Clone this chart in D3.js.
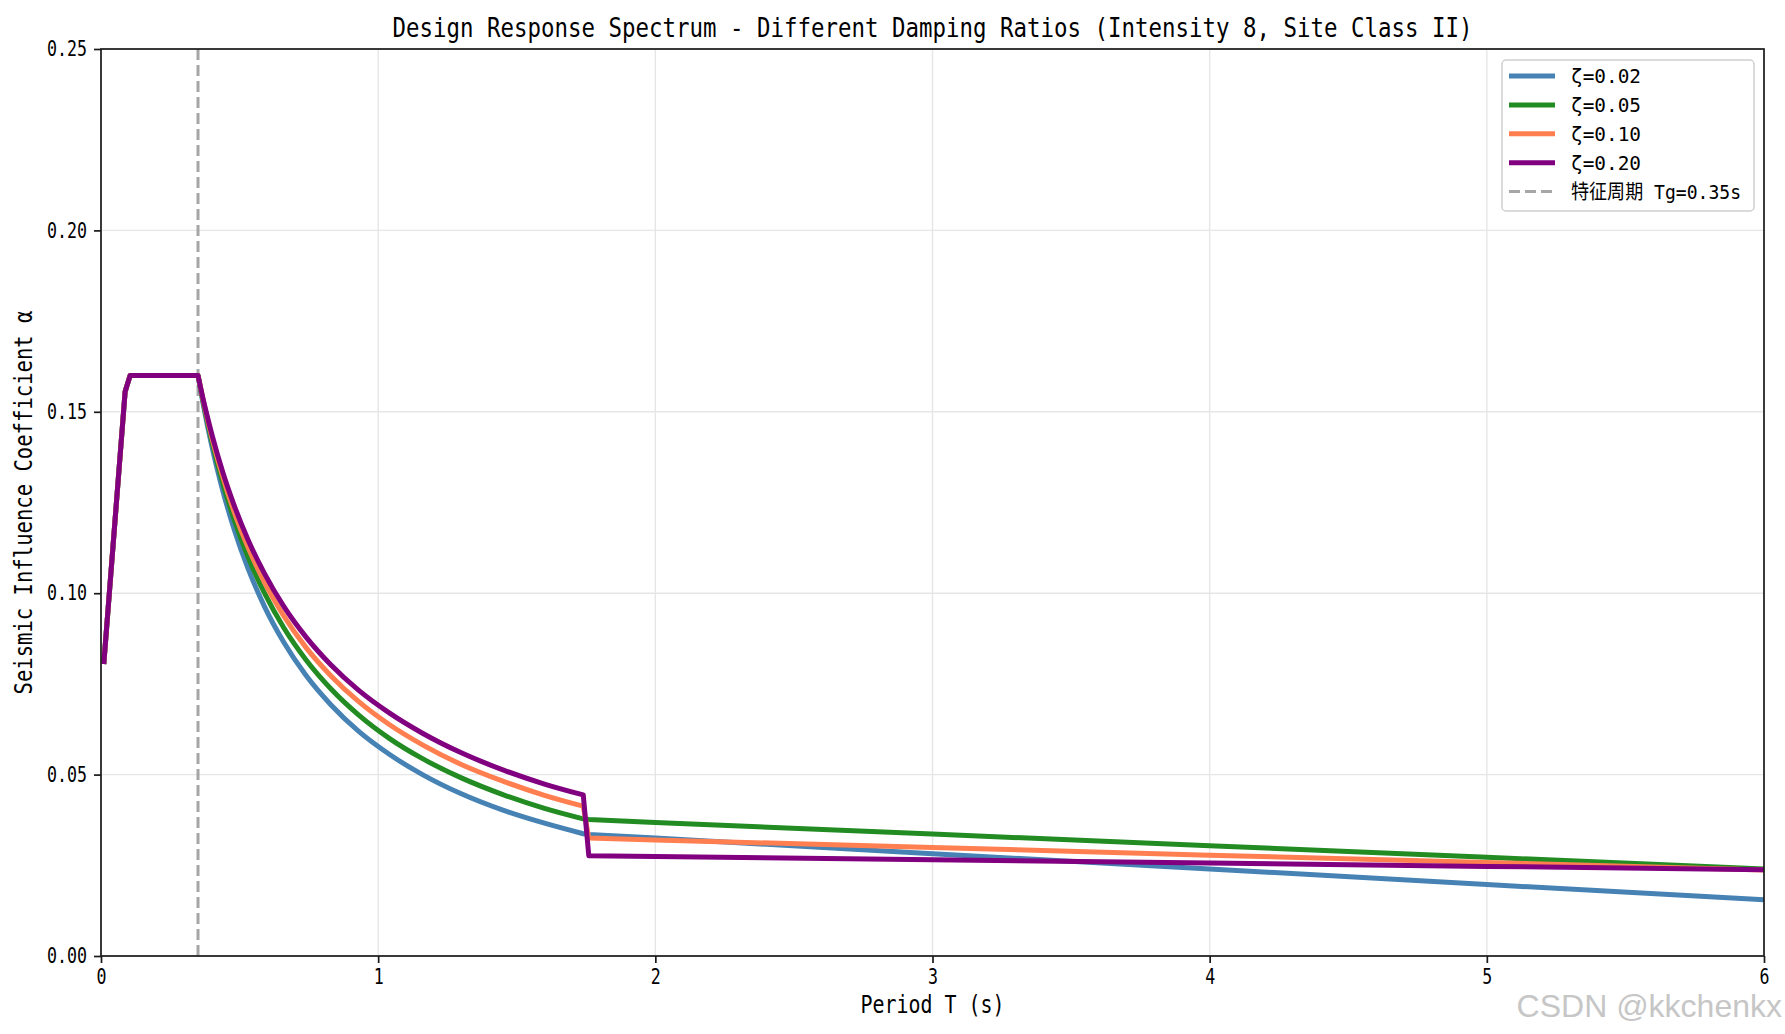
<!DOCTYPE html>
<html>
<head>
<meta charset="utf-8">
<script src="https://cdn.jsdelivr.net/npm/d3@7"></script>
<style>
  body { margin: 0; background: #fff; }
  svg text { font-family: "DejaVu Sans Mono", "Noto Sans CJK SC", monospace; fill: #000; }
</style>
</head>
<body>
<div id="chart"></div>
<script>
var width = 1785;
var height = 1034;
var margin = { top: 49, right: 21, bottom: 78, left: 101 };

// Period samples T (s)
var periods = [0.01, 0.087, 0.105, 0.35, 0.37, 0.40, 0.44, 0.48, 0.53, 0.59, 0.66, 0.74, 0.83, 0.93,
  1.04, 1.16, 1.30, 1.45, 1.60, 1.74, 1.76, 2, 3, 4, 5, 6];

// seismic influence coefficient for each damping ratio
var alpha002 = [0.0805, 0.1555, 0.16, 0.16, 0.1516, 0.1405, 0.1281, 0.1177, 0.1069, 0.0963, 0.0864, 0.0773, 0.0692, 0.0619,
  0.0556, 0.0500, 0.0447, 0.0402, 0.0366, 0.0337, 0.0335, 0.0325, 0.0282, 0.0240, 0.0197, 0.0155];
var alpha005 = [0.0805, 0.1555, 0.16, 0.16, 0.1522, 0.1419, 0.1302, 0.1204, 0.1101, 0.1000, 0.0904, 0.0816, 0.0736, 0.0664,
  0.0600, 0.0544, 0.0491, 0.0445, 0.0407, 0.0378, 0.0376, 0.0368, 0.0336, 0.0304, 0.0272, 0.0240];
var alpha010 = [0.0805, 0.1555, 0.16, 0.16, 0.1527, 0.1429, 0.1319, 0.1225, 0.1127, 0.1030, 0.0937, 0.0850, 0.0772, 0.0701,
  0.0638, 0.0582, 0.0528, 0.0482, 0.0443, 0.0413, 0.0325, 0.0320, 0.0299, 0.0278, 0.0258, 0.0237];
var alpha020 = [0.0805, 0.1555, 0.16, 0.16, 0.1530, 0.1438, 0.1332, 0.1243, 0.1148, 0.1054, 0.0963, 0.0879, 0.0802, 0.0732,
  0.0670, 0.0614, 0.0560, 0.0513, 0.0474, 0.0444, 0.0276, 0.0274, 0.0265, 0.0256, 0.0247, 0.0238];

var seriesNames = ["ζ=0.02", "ζ=0.05", "ζ=0.10", "ζ=0.20"];
var tgValue = 0.35;
var tgLabel = "特征周期 Tg=0.35s";
var xTicks = [0, 1, 2, 3, 4, 5, 6];
var yTicks = [0, 0.05, 0.10, 0.15, 0.20, 0.25];

var titleText = "Design Response Spectrum - Different Damping Ratios (Intensity 8, Site Class II)";
var xLabelText = "Period T (s)";
var yLabelText = "Seismic Influence Coefficient α";

var colors = ["#4682b4", "#228b22", "#ff7f50", "#800080"];

var series = [alpha002, alpha005, alpha010, alpha020].map(function (vals, i) {
  return { name: seriesNames[i], color: colors[i], points: periods.map(function (t, j) { return [t, vals[j]]; }) };
});

// SimHei style text: latin glyphs half width, greek / CJK full width
function halfWidth(sel, em, k) {
  sel.attr("font-size", em * (k || 0.98)).each(function () {
    var s = this.textContent, w = 0;
    for (var i = 0; i < s.length; i++) {
      w += s.charCodeAt(i) > 0x36f ? 1 : 0.5;
    }
    d3.select(this).attr("textLength", w * em).attr("lengthAdjust", "spacingAndGlyphs");
  });
}

var svg = d3.select("#chart").append("svg")
  .attr("width", width)
  .attr("height", height);

var x = d3.scaleLinear().domain([0, 6]).range([margin.left, width - margin.right]);
var y = d3.scaleLinear().domain([0, 0.25]).range([height - margin.bottom, margin.top]);

// grid
svg.append("g").selectAll("line").data(xTicks).enter().append("line")
  .attr("x1", function (d) { return x(d); }).attr("x2", function (d) { return x(d); })
  .attr("y1", y(0)).attr("y2", y(0.25))
  .attr("stroke", "#e6e6e6").attr("stroke-width", 1.4);
svg.append("g").selectAll("line").data(yTicks).enter().append("line")
  .attr("y1", function (d) { return y(d); }).attr("y2", function (d) { return y(d); })
  .attr("x1", x(0)).attr("x2", x(6))
  .attr("stroke", "#e6e6e6").attr("stroke-width", 1.4);

// Tg marker
svg.append("line")
  .attr("x1", x(tgValue)).attr("x2", x(tgValue))
  .attr("y1", y(0)).attr("y2", y(0.25))
  .attr("stroke", "#a6a6a6").attr("stroke-width", 3)
  .attr("stroke-dasharray", "11,5");

// straight pieces for ramp/plateau and the 5Tg drop, smooth decay in between
var straight = d3.line()
  .x(function (d) { return x(d[0]); })
  .y(function (d) { return y(d[1]); });
var smooth = d3.line()
  .x(function (d) { return x(d[0]); })
  .y(function (d) { return y(d[1]); })
  .curve(d3.curveMonotoneX);

function seriesPath(pts) {
  var a = straight(pts.slice(0, 4));
  var b = smooth(pts.slice(3, 20)).replace(/^M/, "L");
  var c = straight(pts.slice(19)).replace(/^M/, "L");
  return a + b + c;
}

svg.append("g").selectAll("path").data(series).enter().append("path")
  .attr("d", function (d) { return seriesPath(d.points); })
  .attr("fill", "none")
  .attr("stroke", function (d) { return d.color; })
  .attr("stroke-width", 5)
  .attr("stroke-linejoin", "round");

// frame
svg.append("rect")
  .attr("x", x(0)).attr("y", y(0.25))
  .attr("width", x(6) - x(0)).attr("height", y(0) - y(0.25))
  .attr("fill", "none").attr("stroke", "#1a1a1a").attr("stroke-width", 1.7);

// axes
var xAxis = d3.axisBottom(x).tickValues(xTicks).tickSize(7).tickPadding(6).tickFormat(d3.format("d"));
var yAxis = d3.axisLeft(y).tickValues(yTicks).tickSize(7).tickPadding(7).tickFormat(d3.format(".2f"));

var gx = svg.append("g").attr("transform", "translate(0," + y(0) + ")").call(xAxis);
var gy = svg.append("g").attr("transform", "translate(" + x(0) + ",0)").call(yAxis);
[gx, gy].forEach(function (g) {
  g.select(".domain").remove();
  g.attr("font-family", null).attr("font-size", null);
  g.selectAll(".tick line").attr("stroke", "#1a1a1a").attr("stroke-width", 1.7);
  g.selectAll(".tick text").attr("fill", "#000").call(halfWidth, 20, 1.06);
});

// title and labels
svg.append("text")
  .attr("x", (x(0) + x(6)) / 2).attr("y", 37)
  .attr("text-anchor", "middle")
  .text(titleText).call(halfWidth, 27, 1.0);

svg.append("text")
  .attr("x", (x(0) + x(6)) / 2).attr("y", 1013)
  .attr("text-anchor", "middle")
  .text(xLabelText).call(halfWidth, 24, 1.0);

svg.append("text")
  .attr("transform", "translate(23," + (y(0) + y(0.25)) / 2 + ") rotate(-90)")
  .attr("text-anchor", "middle")
  .attr("dy", "0.36em")
  .text(yLabelText).call(halfWidth, 24, 1.0);

// legend
var legend = svg.append("g");
legend.append("rect")
  .attr("x", 1502).attr("y", 60).attr("width", 252).attr("height", 151).attr("rx", 4)
  .attr("fill", "#fff").attr("fill-opacity", 0.8)
  .attr("stroke", "#d0d0d0").attr("stroke-width", 1.5);

var legendItems = series.map(function (s) { return { name: s.name, color: s.color, dash: null, w: 5 }; });
legendItems.push({ name: tgLabel, color: "#a6a6a6", dash: "11,5", w: 3 });

var item = legend.selectAll("g.item").data(legendItems).enter().append("g")
  .attr("class", "item")
  .attr("transform", function (d, i) { return "translate(0," + (76 + i * 28.9) + ")"; });
item.append("line")
  .attr("x1", 1509).attr("x2", 1555)
  .attr("stroke", function (d) { return d.color; })
  .attr("stroke-width", function (d) { return d.w; })
  .attr("stroke-dasharray", function (d) { return d.dash; });
item.append("text")
  .attr("x", 1571).attr("y", 7)
  .text(function (d) { return d.name; })
  .call(halfWidth, 20, 1.0);

// watermark
svg.append("text")
  .attr("x", 1782).attr("y", 1017)
  .attr("text-anchor", "end")
  .style("font-family", "'Liberation Sans', Arial, sans-serif")
  .style("fill", "#c6c6c6")
  .attr("font-size", 32)
  .text("CSDN @kkchenkx");
</script>
</body>
</html>
